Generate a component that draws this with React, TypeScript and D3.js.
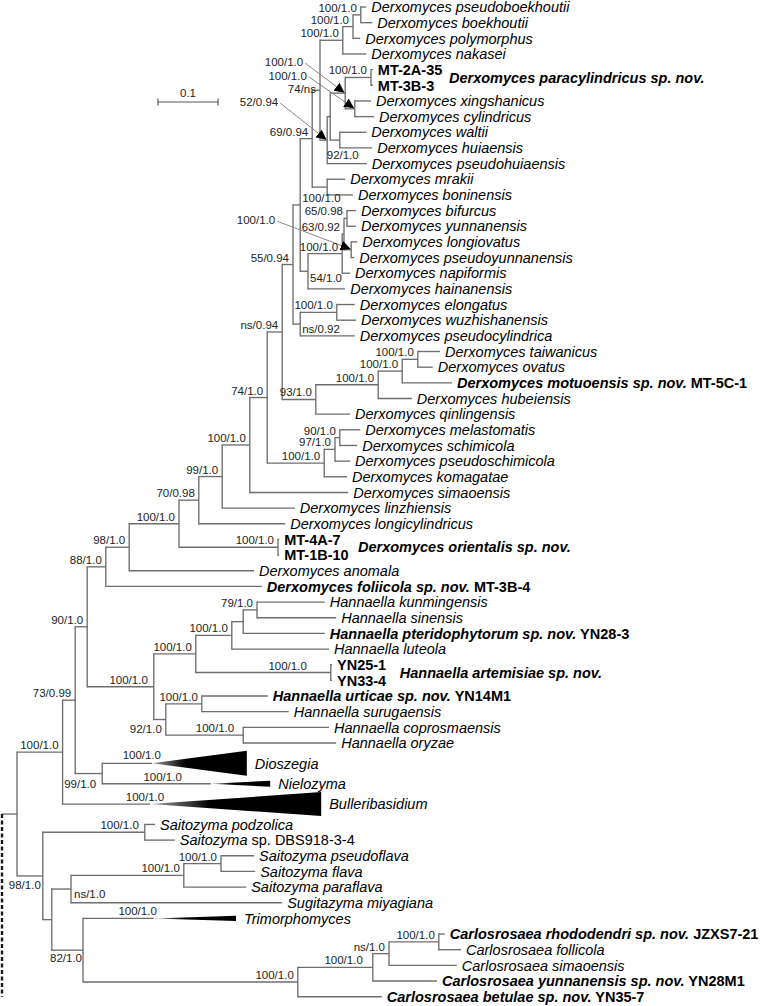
import React from 'react';
import * as d3 from 'd3';

type Row = [string, string | null, number];
type Seg = [string, string];

// Internal nodes: [id, parent, distance from root (substitutions/site)]
const internalNodes: Row[] = [
  ['root', null, 0],
  ['X60', 'root', 0.076],
  ['Y42', 'root', 0.043],
  ['X72', 'X60', 0.097],
  ['W11', 'X72', 0.117],
  ['X98', 'X72', 0.142],
  ['W10', 'W11', 0.148],
  ['H9', 'W11', 0.228],
  ['W9', 'W10', 0.187],
  ['W8', 'W9', 0.270],
  ['W7', 'W8', 0.303],
  ['MTo', 'W8', 0.435],
  ['W6', 'W7', 0.342],
  ['W5', 'W6', 0.388],
  ['W4', 'W5', 0.417],
  ['R', 'W4', 0.442],
  ['W3', 'W4', 0.512],
  ['P', 'R', 0.460],
  ['S', 'R', 0.498],
  ['Q', 'P', 0.472],
  ['E2', 'P', 0.472],
  ['K', 'Q', 0.492],
  ['N5', 'Q', 0.485],
  ['J', 'K', 0.505],
  ['M', 'K', 0.517],
  ['C', 'J', 0.543],
  ['L', 'J', 0.517],
  ['B', 'C', 0.560],
  ['A', 'B', 0.573],
  ['X', 'L', 0.522],
  ['F', 'X', 0.547],
  ['G', 'X', 0.538],
  ['D', 'F', 0.590],
  ['E', 'F', 0.563],
  ['N4', 'N5', 0.542],
  ['N3', 'N4', 0.545],
  ['N1', 'N3', 0.550],
  ['N2', 'N3', 0.557],
  ['E1', 'E2', 0.533],
  ['T', 'S', 0.602],
  ['U', 'T', 0.642],
  ['V', 'U', 0.668],
  ['W2', 'W3', 0.530],
  ['W1', 'W2', 0.538],
  ['H5', 'H9', 0.298],
  ['H8', 'H9', 0.248],
  ['H3', 'H5', 0.358],
  ['H4', 'H5', 0.523],
  ['H2', 'H3', 0.377],
  ['H1', 'H2', 0.400],
  ['H6', 'H8', 0.308],
  ['H7', 'H8', 0.377],
  ['Y135', 'Y42', 0.213],
  ['Y51', 'Y42', 0.058],
  ['Y69', 'Y51', 0.090],
  ['Y83', 'Y51', 0.110],
  ['Y177', 'Y69', 0.278],
  ['Y213', 'Y177', 0.340],
  ['C4', 'Y83', 0.468],
  ['C3', 'C4', 0.593],
  ['C2', 'C3', 0.620],
  ['C1', 'C2', 0.703],
];

// Terminal taxa in display order: [id, parent, distance from root]
const leafNodes: Row[] = [
  ['pb', 'A', 0.582], ['boek', 'A', 0.592], ['poly', 'B', 0.572], ['nak', 'C', 0.582],
  ['mt2a', 'D', 0.593], ['mt3b', 'D', 0.593], ['xing', 'E', 0.590], ['cyl', 'E', 0.595],
  ['walt', 'G', 0.582], ['huia', 'G', 0.592], ['pshui', 'L', 0.583], ['mrak', 'M', 0.547],
  ['bonin', 'M', 0.560], ['bifur', 'N1', 0.565], ['yunn', 'N1', 0.565], ['longio', 'N2', 0.567],
  ['psyun', 'N2', 0.562], ['napif', 'N4', 0.555], ['hainan', 'N5', 0.547], ['elong', 'E1', 0.563],
  ['wuzhi', 'E1', 0.565], ['pscyl', 'E2', 0.563], ['taiwan', 'V', 0.705], ['ovatus', 'V', 0.693],
  ['motuo', 'U', 0.725], ['hubei', 'T', 0.658], ['qinling', 'S', 0.555], ['melast', 'W1', 0.572],
  ['schim', 'W1', 0.567], ['psschim', 'W2', 0.555], ['komag', 'W3', 0.550], ['simao', 'W5', 0.552],
  ['linzhi', 'W6', 0.463], ['longicyl', 'W7', 0.447], ['mt4a', 'MTo', 0.437], ['mt1b', 'MTo', 0.437],
  ['anomala', 'W9', 0.395], ['folii', 'W10', 0.408], ['kunm', 'H1', 0.513], ['sinen', 'H1', 0.532],
  ['pterido', 'H2', 0.513], ['luteola', 'H3', 0.520], ['yn25', 'H4', 0.525], ['yn33', 'H4', 0.525],
  ['urticae', 'H6', 0.418], ['suruga', 'H6', 0.453], ['copros', 'H7', 0.520], ['oryzae', 'H7', 0.532],
  ['Dio', 'X98', 0.225], ['Niel', 'X98', 0.323], ['Bull', 'X60', 0.222],
  ['podz', 'Y135', 0.230], ['dbs', 'Y135', 0.263], ['psfl', 'Y213', 0.395], ['flava', 'Y213', 0.397],
  ['parafl', 'Y177', 0.382], ['sugita', 'Y69', 0.442], ['trimo', 'Y83', 0.228],
  ['rhodo', 'C1', 0.713], ['follic', 'C1', 0.740], ['simaoC', 'C2', 0.733], ['yunnC', 'C3', 0.700],
  ['betul', 'C4', 0.608],
];

// Collapsed clades: [id, deepest tip distance]
const collapsedClades: [string, number][] = [
  ['Dio', 0.383], ['Niel', 0.422], ['Bull', 0.507], ['trimo', 0.365],
];

const leafNames: Seg[][] = [
  [['Derxomyces pseudoboekhoutii', 'i']],
  [['Derxomyces boekhoutii', 'i']],
  [['Derxomyces polymorphus', 'i']],
  [['Derxomyces nakasei', 'i']],
  [['MT-2A-35', 'b']],
  [['MT-3B-3', 'b']],
  [['Derxomyces xingshanicus', 'i']],
  [['Derxomyces cylindricus', 'i']],
  [['Derxomyces waltii', 'i']],
  [['Derxomyces huiaensis', 'i']],
  [['Derxomyces pseudohuiaensis', 'i']],
  [['Derxomyces mrakii', 'i']],
  [['Derxomyces boninensis', 'i']],
  [['Derxomyces bifurcus', 'i']],
  [['Derxomyces yunnanensis', 'i']],
  [['Derxomyces longiovatus', 'i']],
  [['Derxomyces pseudoyunnanensis', 'i']],
  [['Derxomyces napiformis', 'i']],
  [['Derxomyces hainanensis', 'i']],
  [['Derxomyces elongatus', 'i']],
  [['Derxomyces wuzhishanensis', 'i']],
  [['Derxomyces pseudocylindrica', 'i']],
  [['Derxomyces taiwanicus', 'i']],
  [['Derxomyces ovatus', 'i']],
  [['Derxomyces motuoensis sp. nov.', 'bi'], [' MT-5C-1', 'b']],
  [['Derxomyces hubeiensis', 'i']],
  [['Derxomyces qinlingensis', 'i']],
  [['Derxomyces melastomatis', 'i']],
  [['Derxomyces schimicola', 'i']],
  [['Derxomyces pseudoschimicola', 'i']],
  [['Derxomyces komagatae', 'i']],
  [['Derxomyces simaoensis', 'i']],
  [['Derxomyces linzhiensis', 'i']],
  [['Derxomyces longicylindricus', 'i']],
  [['MT-4A-7', 'b']],
  [['MT-1B-10', 'b']],
  [['Derxomyces anomala', 'i']],
  [['Derxomyces foliicola sp. nov.', 'bi'], [' MT-3B-4', 'b']],
  [['Hannaella kunmingensis', 'i']],
  [['Hannaella sinensis', 'i']],
  [['Hannaella pteridophytorum sp. nov.', 'bi'], [' YN28-3', 'b']],
  [['Hannaella luteola', 'i']],
  [['YN25-1', 'b']],
  [['YN33-4', 'b']],
  [['Hannaella urticae sp. nov.', 'bi'], [' YN14M1', 'b']],
  [['Hannaella surugaensis', 'i']],
  [['Hannaella coprosmaensis', 'i']],
  [['Hannaella oryzae', 'i']],
  [['Dioszegia', 'i']],
  [['Nielozyma', 'i']],
  [['Bulleribasidium', 'i']],
  [['Saitozyma podzolica', 'i']],
  [['Saitozyma', 'i'], [' sp. DBS918-3-4', 'n']],
  [['Saitozyma pseudoflava', 'i']],
  [['Saitozyma flava', 'i']],
  [['Saitozyma paraflava', 'i']],
  [['Sugitazyma miyagiana', 'i']],
  [['Trimorphomyces', 'i']],
  [['Carlosrosaea rhododendri sp. nov.', 'bi'], [' JZXS7-21', 'b']],
  [['Carlosrosaea follicola', 'i']],
  [['Carlosrosaea simaoensis', 'i']],
  [['Carlosrosaea yunnanensis sp. nov.', 'bi'], [' YN28M1', 'b']],
  [['Carlosrosaea betulae sp. nov.', 'bi'], [' YN35-7', 'b']],
];

// Support values (ML bootstrap / Bayesian PP)
const supportValues: [string, string][] = [
  ['A', '100/1.0'], ['B', '100/1.0'], ['C', '100/1.0'], ['D', '100/1.0'], ['E', '100/1.0'],
  ['F', '100/1.0'], ['J', '74/ns'], ['L', '52/0.94'], ['K', '69/0.94'], ['G', '92/1.0'],
  ['Q', '100/1.0'], ['N1', '65/0.98'], ['N3', '63/0.92'], ['N2', '100/1.0'], ['N4', '100/1.0'],
  ['N5', '54/1.0'], ['P', '55/0.94'], ['E1', '100/1.0'], ['E2', 'ns/0.92'], ['R', 'ns/0.94'],
  ['V', '100/1.0'], ['U', '100/1.0'], ['T', '100/1.0'], ['S', '93/1.0'], ['W4', '74/1.0'],
  ['W1', '90/1.0'], ['W2', '97/1.0'], ['W3', '100/1.0'], ['W5', '100/1.0'], ['W6', '99/1.0'],
  ['W7', '70/0.98'], ['W8', '100/1.0'], ['MTo', '100/1.0'], ['W9', '98/1.0'], ['W10', '88/1.0'],
  ['H1', '79/1.0'], ['H3', '100/1.0'], ['H5', '100/1.0'], ['H4', '100/1.0'], ['W11', '90/1.0'],
  ['H9', '100/1.0'], ['X72', '73/0.99'], ['H6', '100/1.0'], ['H8', '92/1.0'], ['H7', '100/1.0'],
  ['X60', '100/1.0'], ['Dio', '100/1.0'], ['X98', '99/1.0'], ['Niel', '100/1.0'], ['Bull', '100/1.0'],
  ['Y135', '100/1.0'], ['Y42', '98/1.0'], ['Y213', '100/1.0'], ['Y177', '100/1.0'], ['Y69', 'ns/1.0'],
  ['trimo', '100/1.0'], ['Y83', '82/1.0'], ['C1', '100/1.0'], ['C2', 'ns/1.0'], ['C3', '100/1.0'],
  ['C4', '100/1.0'],
];

const groupLabels: [string, string][] = [
  ['D', 'Derxomyces paracylindricus sp. nov.'],
  ['MTo', 'Derxomyces orientalis sp. nov.'],
  ['H4', 'Hannaella artemisiae sp. nov.'],
];

const scaleBarValue = 0.1;

// ---------- layout (positions / sizes / styles) ----------
const FONT = 'Liberation Sans, Arial, Helvetica, sans-serif';
const LINE = '#6e6e6e';
const wedgeHalf: Record<string, number> = { Dio: 12.5, Niel: 3, Bull: 12, trimo: 2.6 };
const labelLayout: Record<string, [string, number, number]> = {
  Q: ['start', 2, -3], N5: ['start', 2, 11], E2: ['start', 2, 9], Y69: ['start', 3, 9],
  G: ['start', -13, 19], H4: ['end', -24, -3], H7: ['end', -9, -3], H9: ['end', -6, -3],
  C3: ['end', -10, -3], Y135: ['end', -6, -3], X98: ['end', -6, 14], H8: ['end', -4, 13],
  Y42: ['end', -2, 13], Y83: ['end', -1, 12], Dio: ['end', 9, -4], Niel: ['end', -29, -3],
  Bull: ['end', 14, -3], trimo: ['end', 3, -3], J: ['end', -4, 3],
};
const pointerLayout: Record<string, [number, number]> = {
  F: [-42, -27], E: [-48, -29], L: [-49, -34], N2: [-76, -25.5],
};
const groupOffset: Record<string, number> = { D: 78, MTo: 80, H4: 69 };

const segStyle = (s: string): React.CSSProperties => ({
  fontStyle: s.includes('i') ? 'italic' : 'normal',
  fontWeight: s.includes('b') ? 'bold' : 'normal',
});

export default function App() {
  const W = 760, H = 1006;
  const xs = d3.scaleLinear().domain([0, scaleBarValue]).range([17, 77]);

  const isWide = (id: string) => (wedgeHalf[id] ?? 0) > 6;
  let u = 0;
  const leafU = new Map<string, number>();
  leafNodes.forEach((l, i) => {
    if (i > 0) u += isWide(l[0]) || isWide(leafNodes[i - 1][0]) ? 1.3 : 1;
    leafU.set(l[0], u);
  });
  const ys = d3.scaleLinear().domain([0, u]).range([7, 996.7]);

  const root = d3
    .stratify<Row>()
    .id((d) => d[0])
    .parentId((d) => d[1] as any)([...internalNodes, ...leafNodes]);

  const pos = new Map<string, { x: number; y: number }>();
  root.eachAfter((n) => {
    const px = xs(n.data[2]);
    let py: number;
    if (!n.children) py = ys(leafU.get(n.id!)!);
    else {
      const cy = n.children.map((c) => pos.get(c.id!)!.y);
      py = ((d3.min(cy) as number) + (d3.max(cy) as number)) / 2;
    }
    pos.set(n.id!, { x: px, y: py });
  });

  const collapsed = new Map(collapsedClades);
  const branches: React.ReactNode[] = [];
  root.descendants().forEach((n) => {
    const p = pos.get(n.id!)!;
    const parentX = n.parent ? pos.get(n.parent.id!)!.x : 2;
    branches.push(
      <line key={'h' + n.id} x1={parentX} x2={p.x} y1={p.y} y2={p.y} stroke={LINE} strokeWidth={1.35} />
    );
    if (n.children) {
      const cy = n.children.map((c) => pos.get(c.id!)!.y);
      branches.push(
        <line key={'v' + n.id} x1={p.x} x2={p.x} y1={d3.min(cy)} y2={d3.max(cy)} stroke={LINE} strokeWidth={1.35} strokeLinecap="square" />
      );
    }
  });

  const wedges = collapsedClades.map(([id, tip]) => {
    const p = pos.get(id)!;
    const bx = xs(tip);
    const h = wedgeHalf[id];
    return (
      <polygon key={'w' + id} points={`${p.x},${p.y} ${bx},${p.y - h} ${bx},${p.y + h}`} fill="url(#wedgeGrad)" />
    );
  });

  const leafTexts = leafNodes.map((l, i) => {
    const p = pos.get(l[0])!;
    const tx = collapsed.has(l[0]) ? xs(collapsed.get(l[0])!) + 8 : p.x + 5;
    return (
      <text key={'t' + l[0]} x={tx} y={p.y} dy="0.36em" fontSize={14.5} fontFamily={FONT} fill="#000" style={{ whiteSpace: 'pre' }}>
        {leafNames[i].map((s, j) => (
          <tspan key={j} style={segStyle(s[1])}>{s[0]}</tspan>
        ))}
      </text>
    );
  });

  const supportTexts: React.ReactNode[] = [];
  const pointers: React.ReactNode[] = [];
  supportValues.forEach(([id, txt]) => {
    const p = pos.get(id)!;
    if (pointerLayout[id]) {
      const [dx, dy] = pointerLayout[id];
      const lx = p.x + dx, ly = p.y + dy;
      supportTexts.push(
        <text key={'s' + id} x={lx} y={ly} textAnchor="end" fontSize={11.5} fontFamily={FONT} fill="#222">{txt}</text>
      );
      pointers.push(
        <line key={'p' + id} x1={lx + 2} y1={ly - 3} x2={p.x - 1.5} y2={p.y - 1} stroke="#7a7a7a" strokeWidth={0.9} markerEnd="url(#arrowHead)" />
      );
      return;
    }
    const [anchor, dx, dy] = labelLayout[id] ?? ['end', -4, -3];
    supportTexts.push(
      <text key={'s' + id} x={p.x + dx} y={p.y + dy} textAnchor={anchor as any} fontSize={11.5} fontFamily={FONT} fill="#222">{txt}</text>
    );
  });

  const groups = groupLabels.map(([id, txt]) => {
    const p = pos.get(id)!;
    return (
      <text key={'g' + id} x={p.x + groupOffset[id]} y={p.y} dy="0.36em" fontSize={14.5} fontFamily={FONT} fontWeight="bold" fontStyle="italic" fill="#000">{txt}</text>
    );
  });

  const rootP = pos.get('root')!;
  const lastY = pos.get(leafNodes[leafNodes.length - 1][0])!.y;
  const barX0 = 158, barY = 102;
  const barX1 = barX0 + (xs(scaleBarValue) - xs(0));

  return (
    <svg width={W} height={H} style={{ position: 'absolute', left: 0, top: 0, background: '#fff' }}>
      <defs>
        <linearGradient id="wedgeGrad" x1="0" x2="1" y1="0" y2="0">
          <stop offset="0%" stopColor="#a0a0a0" />
          <stop offset="35%" stopColor="#000" />
          <stop offset="100%" stopColor="#000" />
        </linearGradient>
        <marker id="arrowHead" viewBox="0 0 10 10" refX="9" refY="5" markerWidth="10" markerHeight="10" markerUnits="userSpaceOnUse" orient="auto">
          <path d="M0,0 L10,5 L0,10 z" fill="#000" />
        </marker>
      </defs>
      <rect x={0} y={0} width={W} height={H} fill="#fff" />
      {branches}
      {wedges}
      <line x1={2} x2={2} y1={rootP.y} y2={lastY} stroke="#1a1a1a" strokeWidth={2.4} strokeDasharray="4 2.5" />
      {pointers}
      {supportTexts}
      {leafTexts}
      {groups}
      <g>
        <line x1={barX0} x2={barX1} y1={barY} y2={barY} stroke="#555" strokeWidth={1.2} />
        <line x1={barX0} x2={barX0} y1={barY - 3.5} y2={barY + 3.5} stroke="#555" strokeWidth={1.2} />
        <line x1={barX1} x2={barX1} y1={barY - 3.5} y2={barY + 3.5} stroke="#555" strokeWidth={1.2} />
        <text x={(barX0 + barX1) / 2} y={barY - 5} textAnchor="middle" fontSize={11.5} fontFamily={FONT} fill="#222">{scaleBarValue}</text>
      </g>
    </svg>
  );
}
